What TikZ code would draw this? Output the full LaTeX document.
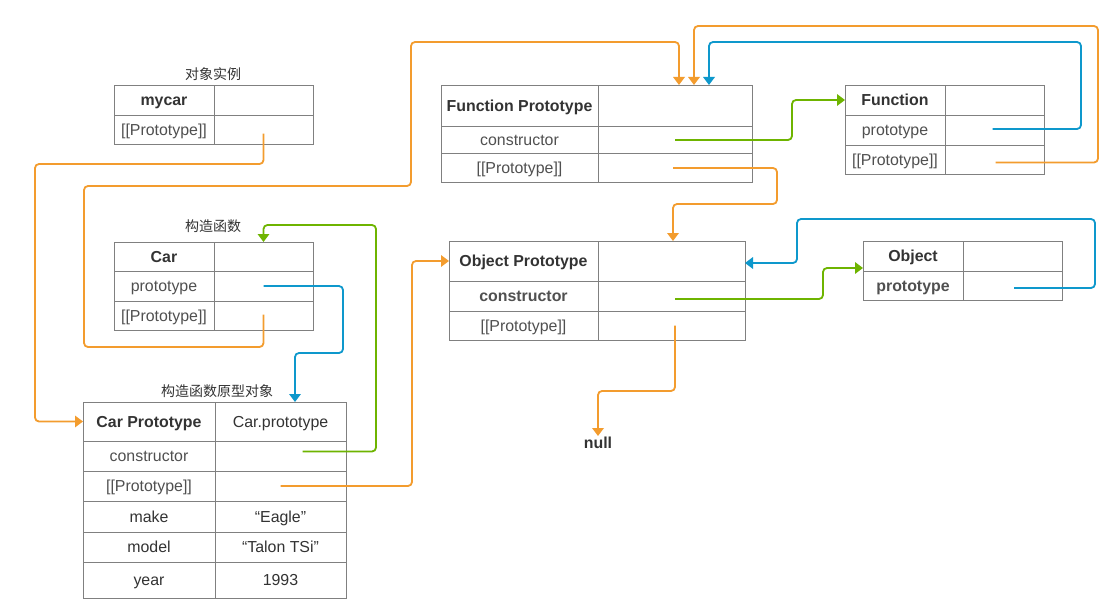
\documentclass[tikz,border=0pt]{standalone}
\usepackage{fontspec}
\setmainfont{Liberation Sans}
\newfontfamily\cjk{Noto Sans CJK SC}
\usetikzlibrary{arrows.meta,calc}
\definecolor{lineor}{RGB}{243,156,46}
\definecolor{lineblue}{RGB}{14,152,204}
\definecolor{linegreen}{RGB}{110,180,0}
\definecolor{bordergray}{RGB}{128,128,128}
\definecolor{headtext}{RGB}{51,51,51}
\definecolor{rowtext}{RGB}{80,80,80}
\newcommand{\cellbox}[7]{%
  \node[cellstyle,#6,minimum width={(#4)-(#2)},minimum height={(#5)-(#3)}] (#1) at ({((#2)+(#4))/2},{((#3)+(#5))/2}) {#7};}
\tikzset{
  cellstyle/.style={draw=bordergray,line width=0.9pt,inner sep=0pt,outer sep=0pt,rectangle,
    text height=13.5pt,text depth=2.1pt,
    font=\fontsize{15.9}{18}\selectfont,text=rowtext},
  headcell/.style={font=\fontsize{15.9}{18}\selectfont\bfseries,text=headtext},
  boldrow/.style={font=\fontsize{15.9}{18}\selectfont\bfseries,text=rowtext},
  plaincell/.style={},
  caption/.style={font=\cjk\fontsize{14}{16}\selectfont,text=headtext,inner sep=0pt},
  conn/.style={line width=1.8pt,rounded corners=4pt,-{Triangle[length=8pt,width=11.5pt]}},
  oline/.style={conn,draw=lineor,color=lineor},
  bline/.style={conn,draw=lineblue,color=lineblue},
  gline/.style={conn,draw=linegreen,color=linegreen}
}
\begin{document}
\begin{tikzpicture}[x=1pt,y=-1pt]
\useasboundingbox[fill=white] (0,0) rectangle (1102,599);

% mycar
\node[caption] (lblmycar) at (213,74) {对象实例};
\cellbox{myh}{114}{85}{214}{115}{headcell}{mycar}
\cellbox{myhv}{214}{85}{313}{115}{plaincell}{}
\cellbox{myp}{114}{115}{214}{144}{plaincell}{[[Prototype]]}
\cellbox{mypv}{214}{115}{313}{144}{plaincell}{}

% Car
\node[caption] (lblcar) at (213,226) {构造函数};
\cellbox{carh}{114}{242}{214}{271}{headcell}{Car}
\cellbox{carhv}{214}{242}{313}{271}{plaincell}{}
\cellbox{carp}{114}{271}{214}{301}{plaincell}{prototype}
\cellbox{carpv}{214}{271}{313}{301}{plaincell}{}
\cellbox{carpp}{114}{301}{214}{330}{plaincell}{[[Prototype]]}
\cellbox{carppv}{214}{301}{313}{330}{plaincell}{}

% Car Prototype
\node[caption] (lblcp) at (217,391) {构造函数原型对象};
\cellbox{cph}{83}{402}{215}{441}{headcell}{Car Prototype}
\cellbox{cphv}{215}{402}{346}{441}{plaincell,text=headtext}{Car.prototype}
\cellbox{cpc}{83}{441}{215}{471}{plaincell}{constructor}
\cellbox{cpcv}{215}{441}{346}{471}{plaincell}{}
\cellbox{cpp}{83}{471}{215}{501}{plaincell}{[[Prototype]]}
\cellbox{cppv}{215}{471}{346}{501}{plaincell}{}
\cellbox{cpm}{83}{501}{215}{532}{plaincell,text=headtext}{make}
\cellbox{cpmv}{215}{501}{346}{532}{plaincell,text=headtext}{“Eagle”}
\cellbox{cpmo}{83}{532}{215}{562}{plaincell,text=headtext}{model}
\cellbox{cpmov}{215}{532}{346}{562}{plaincell,text=headtext}{“Talon TSi”}
\cellbox{cpy}{83}{562}{215}{598}{plaincell,text=headtext}{year}
\cellbox{cpyv}{215}{562}{346}{598}{plaincell,text=headtext}{1993}

% Function Prototype
\cellbox{fph}{441}{85}{598}{126}{headcell}{Function Prototype}
\cellbox{fphv}{598}{85}{752}{126}{plaincell}{}
\cellbox{fpc}{441}{126}{598}{153}{plaincell}{constructor}
\cellbox{fpcv}{598}{126}{752}{153}{plaincell}{}
\cellbox{fpp}{441}{153}{598}{182}{plaincell}{[[Prototype]]}
\cellbox{fppv}{598}{153}{752}{182}{plaincell}{}

% Object Prototype
\cellbox{oph}{449}{241}{598}{281}{headcell}{Object Prototype}
\cellbox{ophv}{598}{241}{745}{281}{plaincell}{}
\cellbox{opc}{449}{281}{598}{311}{boldrow}{constructor}
\cellbox{opcv}{598}{281}{745}{311}{plaincell}{}
\cellbox{opp}{449}{311}{598}{340}{plaincell}{[[Prototype]]}
\cellbox{oppv}{598}{311}{745}{340}{plaincell}{}

% Function
\cellbox{fnh}{845}{85}{945}{115}{headcell}{Function}
\cellbox{fnhv}{945}{85}{1044}{115}{plaincell}{}
\cellbox{fnp}{845}{115}{945}{145}{plaincell}{prototype}
\cellbox{fnpv}{945}{115}{1044}{145}{plaincell}{}
\cellbox{fnpp}{845}{145}{945}{174}{plaincell}{[[Prototype]]}
\cellbox{fnppv}{945}{145}{1044}{174}{plaincell}{}

% Object
\cellbox{obh}{863}{241}{963}{271}{headcell}{Object}
\cellbox{obhv}{963}{241}{1062}{271}{plaincell}{}
\cellbox{obp}{863}{271}{963}{300}{boldrow}{prototype}
\cellbox{obpv}{963}{271}{1062}{300}{plaincell}{}

% null
\node[anchor=north,inner sep=1pt,font=\fontsize{15.9}{18}\selectfont\bfseries,text=headtext] (null) at (598,436) {null};

% connectors
\draw[oline] ($(mypv.center)+(0,4)$) |- (35,164) |- (cph.west);
\draw[oline] ($(carppv.center)+(0,-1)$) |- (84,347) |- (411,186) |- (679,42) -- ($(fphv.north west)+(81,0)$);
\draw[bline] (carpv.center) -| (343,353) -| ($(cphv.north west)+(80,0)$);
\draw[gline] ($(cpcv.center)+(22,-4.5)$) -| (376,225) -| (carhv.north);
\draw[oline] (cppv.center) -| (412,261) -- (oph.west);
\draw[gline] ($(fpcv.center)+(0,0.5)$) -| (792,100) -- (fnh.west);
\draw[oline] ($(fppv.center)+(-2,0.5)$) -| (777,204) -| ($(ophv.north)+(1.5,0)$);
\draw[bline] ($(fnpv.center)+(-2,-1)$) -| (1081,42) -| ($(fphv.north west)+(111,0)$);
\draw[oline] ($(fnppv.center)+(1,3)$) -| (1098,26) -| ($(fphv.north west)+(96,0)$);
\draw[gline] ($(opcv.center)+(3.5,3)$) -| (823,268) -- ($(obh.west)+(0,12)$);
\draw[bline] ($(obpv.center)+(1.5,2.5)$) -| (1095,219) -| (797,263) -- ($(ophv.east)+(0,2)$);
\draw[oline] ($(oppv.center)+(3.5,0)$) |- (598,391) -- (null.north);
\end{tikzpicture}
\end{document}
